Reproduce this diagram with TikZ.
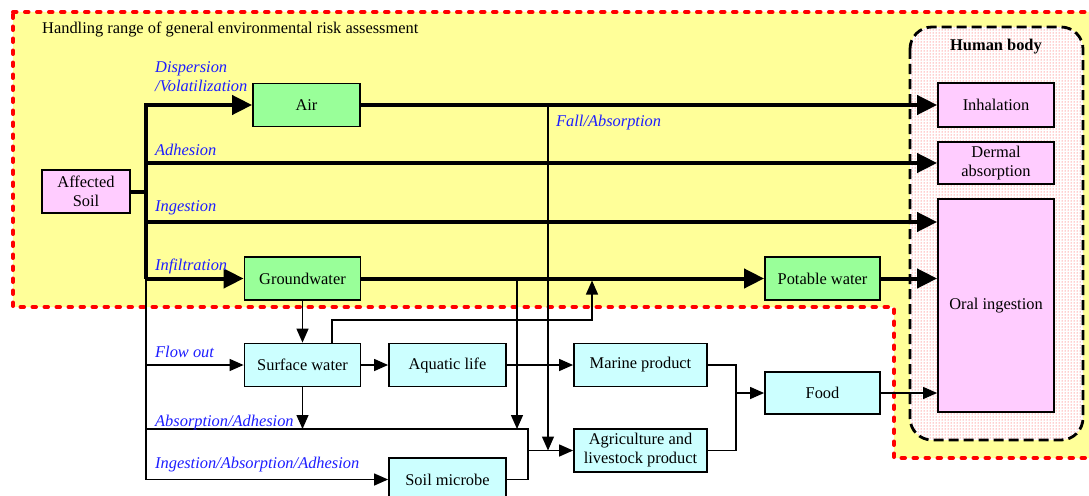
\documentclass[tikz,border=0pt]{standalone}
\usepackage{fontspec}
\setmainfont{Liberation Serif}
\usetikzlibrary{arrows.meta,patterns}

\definecolor{zonefill}{HTML}{FFFF99}
\definecolor{greenfill}{HTML}{99FF99}
\definecolor{cyanfill}{HTML}{CCFFFF}
\definecolor{pinkfill}{HTML}{FFCCFF}
\definecolor{labelblue}{RGB}{30,30,255}

\begin{document}
\begin{tikzpicture}[x=1pt,y=-1pt,
  txt/.style={font=\fontsize{16.4}{19}\selectfont},
  box/.style={txt,draw,line width=1.8pt,minimum height=43pt,inner sep=0pt,align=center},
  pinkbox/.style={box,fill=pinkfill},
  greenbox/.style={box,fill=greenfill},
  cyanbox/.style={box,fill=cyanfill},
  lbl/.style={anchor=base west,inner sep=0pt,text=labelblue,font=\fontsize{16.4}{19}\selectfont\itshape},
  mainline/.style={line width=4pt},
  mainflow/.style={mainline,-{Triangle[length=20pt,width=19pt]}},
  sideline/.style={line width=1.3pt},
  sideflow/.style={sideline,-{Triangle[length=14pt,width=12pt]}},
  zoneline/.style={red,line width=4pt,line cap=round,dash pattern=on 3.5pt off 8.5pt},
  bodyline/.style={line width=2.8pt,dash pattern=on 10pt off 5pt,rounded corners=22pt}
]
\useasboundingbox (0,0) rectangle (1089,495);
\clip (0,0) rectangle (1089,495);

% scope of the general assessment
\draw[zoneline,fill=zonefill] (13,12) -- (1100,12) -- (1100,458) -- (894,458)
  -- (894,307) -- (13,307) -- cycle;
\node[anchor=base west,inner sep=0pt,txt] (title) at (42,34)
  {Handling range of general environmental risk assessment};

% human body container
\fill[white,rounded corners=22pt] (910,27) rectangle (1083,440);
\fill[pattern=dots,pattern color=red!80,rounded corners=22pt] (910,27) rectangle (1083,440);
\draw[bodyline] (910,27) rectangle (1083,440);
\node[anchor=base,inner sep=0pt,font=\fontsize{16.4}{19}\selectfont\bfseries] (hb) at (996,51) {Human body};

% boxes
\node[pinkbox,minimum width=88pt] (soil) at (86,191.5) {Affected\\Soil};
\node[greenbox,minimum width=107pt] (air) at (306.5,105) {Air};
\node[greenbox,minimum width=116pt] (gw) at (302.5,278.5) {Groundwater};
\node[greenbox,minimum width=115pt] (pot) at (822.5,278.5) {Potable water};
\node[cyanbox,minimum width=116pt] (surf) at (302.5,365) {Surface water};
\node[cyanbox,minimum width=117pt] (aqua) at (447.5,365) {Aquatic life};
\node[cyanbox,minimum width=133pt] (marine) at (640.5,365) {Marine product};
\node[cyanbox,minimum width=115pt,minimum height=42pt] (food) at (822.5,393) {Food};
\node[cyanbox,minimum width=133pt] (agri) at (640.5,450.5) {Agriculture and\\livestock product};
\node[cyanbox,minimum width=117pt] (microbe) at (447.5,479.5) {Soil microbe};
\node[pinkbox,minimum width=116pt,minimum height=44pt] (inh) at (996,105) {Inhalation};
\node[pinkbox,minimum width=116pt,minimum height=42pt] (derm) at (996,163) {Dermal\\absorption};
\node[pinkbox,minimum width=116pt,minimum height=213pt] (oral) at (996,305.5) {Oral ingestion};

% junction points
\coordinate (tA) at (146,105);
\coordinate (tB) at (146,278.5);
\coordinate (tC) at (146,479.5);
\coordinate (ingY) at (146,222);
\coordinate (absY) at (146,429);
\coordinate (fallX) at (548,105);
\coordinate (gwX) at (517,278.5);
\coordinate (merge) at (528,450.5);
\coordinate (foodX) at (736,393);
\coordinate (riseA) at (332,320);
\coordinate (riseB) at (592,320);
\coordinate (riseTop) at (592,280.5);

% thin pathways
\draw[sideline] (tB) -- (tC);
\draw[sideflow] (surf.west -| tB) -- (surf.west);
\draw[sideflow] (tC) -- (microbe.west);
\draw[sideline] (absY) -- (absY -| merge) -- (merge |- microbe.east) -- (microbe.east);
\draw[sideflow] (merge) -- (agri.west);
\draw[sideflow] (gw.south) -- (surf.north);
\draw[sideflow] (surf.south) -- (surf.south |- absY);
\draw[sideflow] (gwX) -- (gwX |- absY);
\draw[sideflow] (fallX) -- (fallX |- agri.west);
\draw[sideflow] (surf.north -| riseA) -- (riseA) -- (riseB) -- (riseTop);
\draw[sideflow] (surf) -- (aqua);
\draw[sideflow] (aqua) -- (marine);
\draw[sideline] (marine.east) -- (marine.east -| foodX) -- (agri.east -| foodX) -- (agri.east);
\draw[sideflow] (foodX) -- (food.west);
\draw[sideflow] (food.east) -- (food.east -| oral.west);

% main pathways
\draw[mainline] (soil.east) -- (soil.east -| tA);
\draw[mainflow] (tB) -- (tA) -- (air.west);
\draw[mainflow] (derm.west -| tA) -- (derm.west);
\draw[mainflow] (ingY) -- (ingY -| oral.west);
\draw[mainflow] (tB) -- (gw.west);
\draw[mainflow] (air.east) -- (inh.west);
\draw[mainflow] (gw.east) -- (pot.west);
\draw[mainflow] (pot.east) -- (pot.east -| oral.west);

% pathway labels
\node[lbl] (l1) at (155,73) {Dispersion};
\node[lbl] (l2) at (155,92) {/Volatilization};
\node[lbl] (l3) at (155,155) {Adhesion};
\node[lbl] (l4) at (155,211.5) {Ingestion};
\node[lbl] (l5) at (155,270) {Infiltration};
\node[lbl] (l6) at (155,357) {Flow out};
\node[lbl] (l7) at (155,426) {Absorption/Adhesion};
\node[lbl] (l8) at (155,468) {Ingestion/Absorption/Adhesion};
\node[lbl] (l9) at (556,126) {Fall/Absorption};
\end{tikzpicture}
\end{document}
